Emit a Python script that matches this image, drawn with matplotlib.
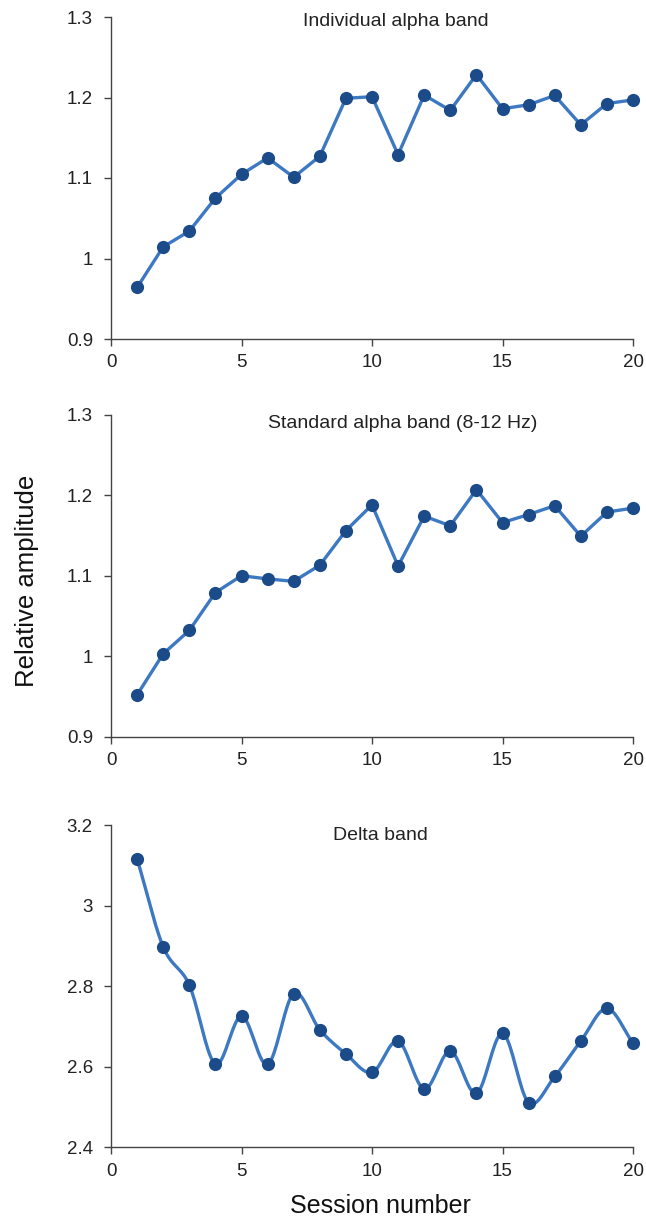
import numpy as np
import matplotlib
matplotlib.use("Agg")
import matplotlib.pyplot as plt

plt.rcParams['font.family'] = ['Liberation Sans', 'DejaVu Sans']

sessions = list(range(1, 21))
individual_alpha = [0.964, 1.0145, 1.034, 1.075, 1.1045, 1.125, 1.101, 1.127, 1.199, 1.201,
                    1.129, 1.203, 1.184, 1.2285, 1.186, 1.191, 1.2025, 1.166, 1.1925, 1.197]
standard_alpha = [0.952, 1.003, 1.032, 1.079, 1.100, 1.096, 1.093, 1.113, 1.156, 1.188,
                  1.112, 1.174, 1.162, 1.207, 1.166, 1.176, 1.187, 1.149, 1.179, 1.184]
delta = [3.117, 2.898, 2.803, 2.607, 2.726, 2.606, 2.782, 2.692, 2.632, 2.586,
         2.664, 2.545, 2.639, 2.534, 2.683, 2.511, 2.576, 2.664, 2.745, 2.659]

titles = ["Individual alpha band", "Standard alpha band (8-12 Hz)", "Delta band"]
yticks = [[0.9, 1.0, 1.1, 1.2, 1.3], [0.9, 1.0, 1.1, 1.2, 1.3], [2.4, 2.6, 2.8, 3.0, 3.2]]
ytick_labels = [["0.9", "1", "1.1", "1.2", "1.3"], ["0.9", "1", "1.1", "1.2", "1.3"],
                ["2.4", "2.6", "2.8", "3", "3.2"]]
xticks = [0, 5, 10, 15, 20]
smooth = [False, False, True]

# layout (pixel positions of title centres)
title_xpx = [396, 403, 380]
title_ypx = [22, 423, 835]

LINE = '#3d78c2'
MARK = '#1c4b8a'


def catmull_rom(x, y, n=20):
    x = np.asarray(x, float)
    y = np.asarray(y, float)
    px = np.concatenate([[2 * x[0] - x[1]], x, [2 * x[-1] - x[-2]]])
    py = np.concatenate([[2 * y[0] - y[1]], y, [2 * y[-1] - y[-2]]])
    xs, ys = [], []
    t = np.linspace(0, 1, n, endpoint=False)
    for i in range(1, len(px) - 2):
        p0, p1, p2, p3 = [np.array([px[j], py[j]]) for j in (i - 1, i, i + 1, i + 2)]
        c1 = p1 + (p2 - p0) / 6.0
        c2 = p2 - (p3 - p1) / 6.0
        b = ((1 - t) ** 3)[:, None] * p1 + (3 * (1 - t) ** 2 * t)[:, None] * c1 + \
            (3 * (1 - t) * t ** 2)[:, None] * c2 + (t ** 3)[:, None] * p2
        xs.extend(b[:, 0]); ys.extend(b[:, 1])
    xs.append(x[-1]); ys.append(y[-1])
    return np.array(xs), np.array(ys)


W, H = 646, 1217
fig = plt.figure(figsize=(W / 100, H / 100), dpi=100)
left = 111 / W
width = (633 - 111) / W
bottoms = [1 - 339 / H, 1 - 736.7 / H, 1 - 1147.3 / H]
height = 322 / H
data = [individual_alpha, standard_alpha, delta]

for k in range(3):
    ax = fig.add_axes([left, bottoms[k], width, height])
    if smooth[k]:
        sx, sy = catmull_rom(sessions, data[k])
        ax.plot(sx, sy, color=LINE, lw=2.4, zorder=2, clip_on=False)
    else:
        ax.plot(sessions, data[k], color=LINE, lw=2.4, zorder=2, clip_on=False)
    ax.plot(sessions, data[k], 'o', color=MARK, ms=9.5, mew=0, zorder=3, clip_on=False)
    ax.set_xlim(0, 20)
    ax.set_ylim(yticks[k][0], yticks[k][-1])
    ax.set_xticks(xticks)
    ax.set_xticklabels([str(v) for v in xticks])
    ax.set_yticks(yticks[k])
    ax.set_yticklabels(ytick_labels[k])
    for s in ['top', 'right']:
        ax.spines[s].set_visible(False)
    for s in ['left', 'bottom']:
        ax.spines[s].set_color('#444444')
        ax.spines[s].set_linewidth(1.0)
    ax.tick_params(direction='out', length=5, width=1.0, color='#444444',
                   labelsize=13.5, labelcolor='#222222')
    ax.tick_params(axis='y', pad=8)
    ax.tick_params(axis='x', pad=6)
    fig.text(title_xpx[k] / W, 1 - title_ypx[k] / H, titles[k], ha='center', va='center',
             fontsize=14, color='#222222')
    ax.patch.set_alpha(0)

fig.text(27 / W, 1 - 581 / H, 'Relative amplitude', rotation=90, ha='center', va='center',
         fontsize=18.5, color='#111111')
fig.text(380 / W, 1 - 1206 / H, 'Session number', ha='center', va='center',
         fontsize=18, color='#111111')

fig.savefig('out.png', dpi=100)
